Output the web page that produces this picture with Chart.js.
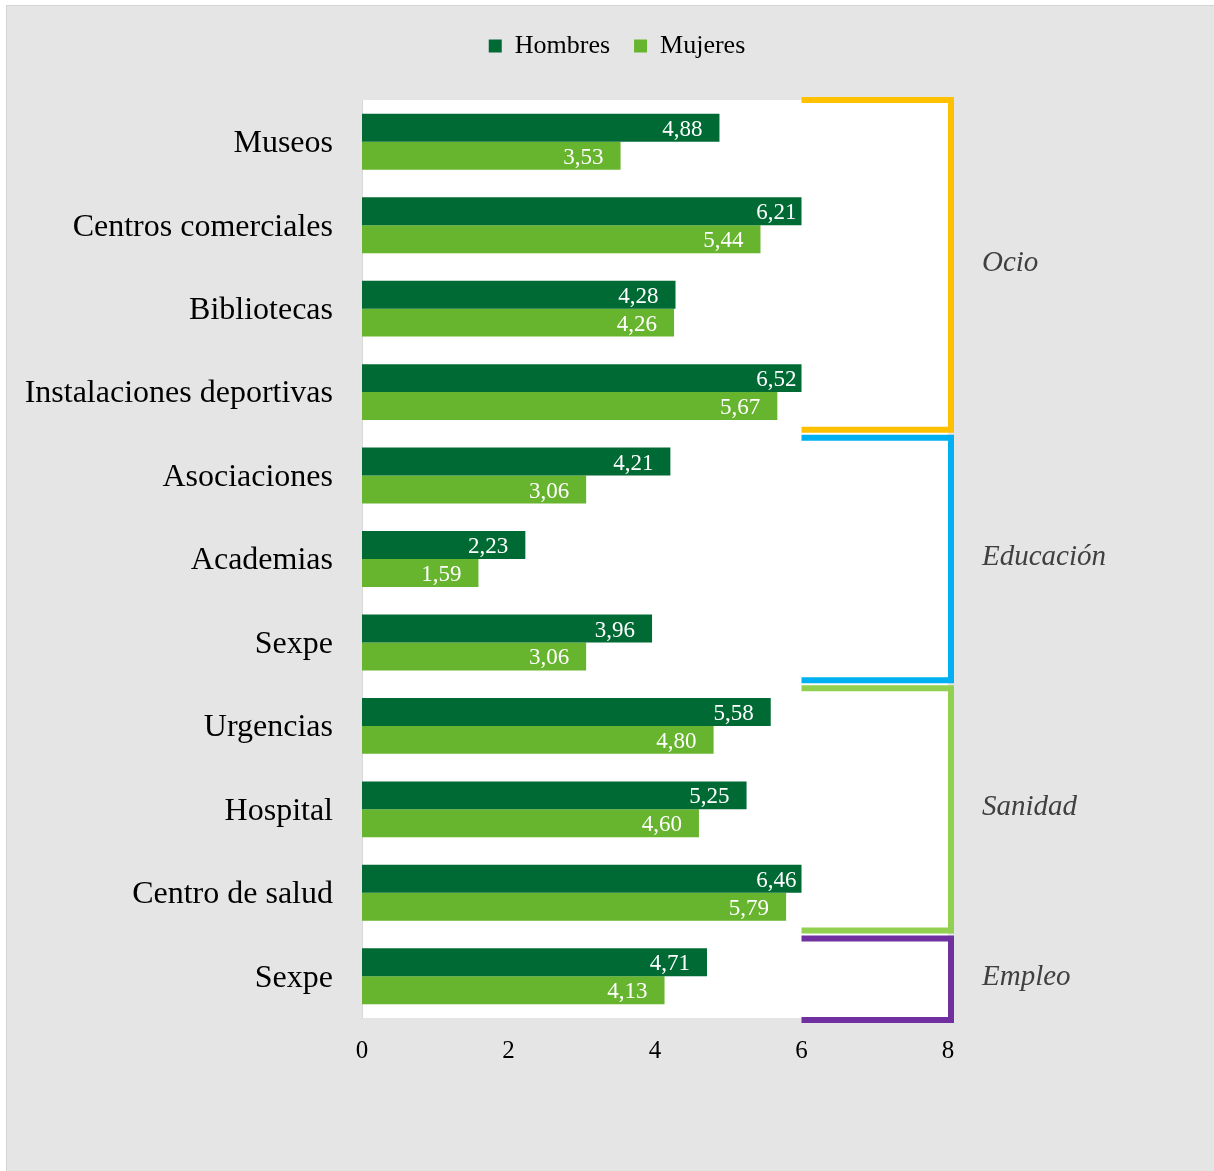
<!DOCTYPE html>
<html><head><meta charset="utf-8">
<script src="https://cdn.jsdelivr.net/npm/chart.js@4/dist/chart.umd.min.js"></script>
<style>html,body{margin:0;padding:0;background:#fff;overflow:hidden}#wrap{width:1214px;height:1171px;position:relative}</style>
</head><body><div id="wrap"><canvas id="c"></canvas></div>
<script>
const categories = ['Museos','Centros comerciales','Bibliotecas','Instalaciones deportivas','Asociaciones','Academias','Sexpe','Urgencias','Hospital','Centro de salud','Sexpe'];
const hombres = [4.88,6.21,4.28,6.52,4.21,2.23,3.96,5.58,5.25,6.46,4.71];
const mujeres = [3.53,5.44,4.26,5.67,3.06,1.59,3.06,4.80,4.60,5.79,4.13];
const seriesNames = ['Hombres','Mujeres'];
const xTicks = [0,2,4,6,8];
const groupNames = ['Ocio','Educación','Sanidad','Empleo'];
const groupFirst = [0,4,7,10];
const groupLast = [3,6,9,10];
const plotLimit = 6;

const SERIF = '"Liberation Serif", "Times New Roman", serif';
Chart.defaults.font.family = SERIF;
const groupColors = ['#FFC000','#00B0F0','#92D050','#7030A0'];

const decor = {
  id: 'decor',
  beforeLayout(chart) {
    const L = chart.legend;
    if (L && !L._patched) {
      const orig = L.fit.bind(L);
      L.fit = function(){ orig(); this.height = 100 - 9; };
      L._patched = true;
    }
  },
  afterLayout(chart) {
    const L = chart.legend;
    L.left = 20; L.right = 1214; L.width = L.right - L.left;
  },
  beforeDraw(chart) {
    const ctx = chart.ctx, ca = chart.chartArea;
    ctx.save();
    ctx.fillStyle = '#ffffff';
    ctx.fillRect(0, 0, chart.width, chart.height);
    ctx.fillStyle = '#E5E5E5';
    ctx.fillRect(6, 5, chart.width - 6, chart.height - 5);
    ctx.strokeStyle = '#D4D4D4';
    ctx.lineWidth = 1;
    ctx.strokeRect(6.5, 5.5, chart.width - 6, chart.height - 5);
    ctx.fillStyle = '#ffffff';
    ctx.fillRect(ca.left, ca.top, ca.right - ca.left, ca.bottom - ca.top);
    ctx.restore();
  },
  beforeDatasetsDraw(chart) {
    const ctx = chart.ctx, xs = chart.scales.x, ca = chart.chartArea;
    const x0 = xs.getPixelForValue(0), x6 = xs.getPixelForValue(plotLimit);
    ctx.save();
    ctx.beginPath();
    ctx.rect(x0, ca.top, x6 - x0, ca.bottom - ca.top);
    ctx.clip();
  },
  afterDatasetsDraw(chart) {
    const ctx = chart.ctx, xs = chart.scales.x, ys = chart.scales.y;
    ctx.restore();
    const limit = xs.getPixelForValue(plotLimit);
    // data labels
    ctx.save();
    ctx.font = '23px ' + SERIF;
    ctx.fillStyle = '#ffffff';
    ctx.textAlign = 'right';
    ctx.textBaseline = 'middle';
    chart.data.datasets.forEach((ds, i) => {
      chart.getDatasetMeta(i).data.forEach((el, j) => {
        const x = Math.min(el.x - 17, limit - 5);
        ctx.fillText(ds.data[j].toFixed(2).replace('.', ','), x, el.y + 2);
      });
    });
    ctx.restore();
    // group brackets
    const band = ys.getPixelForValue(1) - ys.getPixelForValue(0);
    const xr = xs.getPixelForValue(xTicks[xTicks.length - 1]) + 3;
    ctx.save();
    ctx.lineWidth = 6;
    ctx.lineJoin = 'miter';
    ctx.lineCap = 'butt';
    groupNames.forEach((name, g) => {
      let top = ys.getPixelForValue(groupFirst[g]) - band / 2;
      let bottom = ys.getPixelForValue(groupLast[g]) + band / 2;
      top += (g === 0) ? 0 : 4;
      bottom += (g === groupNames.length - 1) ? 2 : -4;
      ctx.strokeStyle = groupColors[g];
      ctx.beginPath();
      ctx.moveTo(limit, top);
      ctx.lineTo(xr, top);
      ctx.lineTo(xr, bottom);
      ctx.lineTo(limit, bottom);
      ctx.stroke();
      ctx.fillStyle = '#404040';
      ctx.font = 'italic 29px ' + SERIF;
      ctx.textAlign = 'left';
      ctx.textBaseline = 'middle';
      ctx.fillText(name, 982, (top + bottom) / 2 - 2);
    });
    ctx.restore();
  }
};

new Chart(document.getElementById('c'), {
  type: 'bar',
  data: {
    labels: categories,
    datasets: [
      { label: seriesNames[0], data: hombres, backgroundColor: '#006A35', borderWidth: 0, categoryPercentage: 0.67, barPercentage: 1.0 },
      { label: seriesNames[1], data: mujeres, backgroundColor: '#67B42E', borderWidth: 0, categoryPercentage: 0.67, barPercentage: 1.0 }
    ]
  },
  options: {
    indexAxis: 'y',
    responsive: true,
    maintainAspectRatio: false,
    animation: false,
    layout: { padding: { top: 9, left: 0, right: 266, bottom: 0 } },
    plugins: {
      legend: {
        position: 'top',
        labels: {
          font: { family: SERIF, size: 26 },
          color: '#000',
          boxWidth: 13, boxHeight: 13,
          padding: 24
        }
      },
      tooltip: { enabled: false }
    },
    scales: {
      x: {
        min: 0, max: 8,
        afterBuildTicks(scale) { scale.ticks = xTicks.map(v => ({ value: v })); },
        grid: { display: false, drawTicks: false },
        border: { display: false },
        ticks: { font: { family: SERIF, size: 25 }, color: '#000', padding: 18 },
        afterFit(scale) { scale.height = 1171 - 1018; }
      },
      y: {
        grid: { display: false, drawTicks: false },
        border: { display: true, color: '#D9D9D9', width: 1 },
        ticks: { font: { family: SERIF, size: 32 }, color: '#000', padding: 29, autoSkip: false, labelOffset: 2 },
        afterFit(scale) { scale.width = 362; }
      }
    }
  },
  plugins: [decor]
});
</script>
</body></html>
